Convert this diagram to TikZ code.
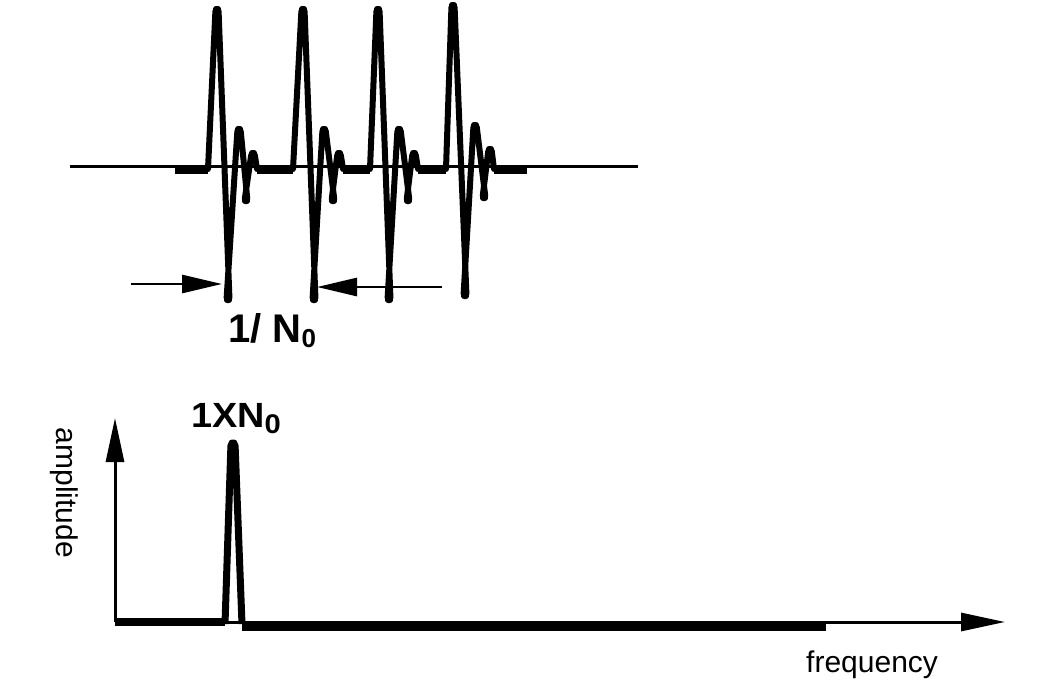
\documentclass[tikz,border=0pt]{standalone}
\usepackage{fontspec}
\setmainfont{Liberation Sans}
\usetikzlibrary{arrows.meta}
\begin{document}
\begin{tikzpicture}[x=1pt,y=-1pt,
  thinline/.style={line width=3pt},
  thickbase/.style={line width=8pt},
  pulseline/.style={line width=6pt, line join=round, line cap=round, rounded corners=2.5pt},
  spikeline/.style={line width=7pt, line join=round, rounded corners=3pt},
  dimarrow/.style={line width=2.8pt, -{Triangle[length=40pt,width=18pt]}},
  axisarrow/.style={line width=3pt, -{Triangle[length=44pt,width=18pt]}},
  boldlabel/.style={font=\fontsize{40}{44}\selectfont\bfseries, inner sep=0pt},
  axislabel/.style={font=\fontsize{30}{34}\selectfont, inner sep=0pt}]
\fill[white] (0,0) rectangle (1047,697);
\useasboundingbox (0,0) rectangle (1047,697);

% ---------- top: pulse train ----------
\draw[thinline] (70,166) -- (638,166);
\foreach \a/\b in {175/208, 257/293, 343/370, 418/446, 494/527}
  \draw[thickbase] (\a,169.5) -- (\b,169.5);

\draw[pulseline] (208,169) -- (215.5,9) -- (218.5,9) -- (229.5,300) -- (226.5,300) -- (237.5,129) -- (240.5,129)
  -- (247.5,201) -- (244.5,201) -- (251.5,153) -- (254.5,153) -- (257,169);
\draw[pulseline] (293,169) -- (301.5,9) -- (304.5,9) -- (315.5,300) -- (312.5,300) -- (322.5,129) -- (325.5,129)
  -- (334.5,201) -- (331.5,201) -- (337.5,153) -- (340.5,153) -- (343,169);
\draw[pulseline] (370,169) -- (376.5,9) -- (379.5,9) -- (390.5,300) -- (387.5,300) -- (397.5,129) -- (400.5,129)
  -- (409.5,201) -- (406.5,201) -- (412.5,153) -- (415.5,153) -- (418,169);
\draw[pulseline] (446,169) -- (451.5,5) -- (454.5,5) -- (466.5,296) -- (463.5,296) -- (473.5,125) -- (476.5,125)
  -- (485.5,198) -- (482.5,198) -- (488.5,149) -- (491.5,149) -- (494,169);

% dimension arrows
\coordinate (la) at (131,284);
\coordinate (lt) at (222,284);
\coordinate (ra) at (442,287);
\coordinate (rt) at (317,287);
\draw[dimarrow] (la) -- (lt);
\draw[dimarrow] (ra) -- (rt);

\node[boldlabel, anchor=base west] (period) at (228,342)
  {1/ N\raisebox{-5pt}{\fontsize{26}{26}\selectfont 0}};

% ---------- bottom: spectrum ----------
\coordinate (o) at (115,622);
\coordinate (ytip) at (115,418);
\coordinate (xtip) at (1005,622);
\draw[axisarrow] (o) -- (ytip);
\draw[axisarrow] (o) -- (xtip);

\draw[thickbase] (115,622) -- (225,622);
\draw[thickbase, line width=10pt] (242,626) -- (826,626);
\draw[spikeline] (225,624) -- (231,443) -- (235,443) -- (242,624);

\node[inner sep=0pt, anchor=base west] (peak) at (191,427)
  {\scalebox{1.08}[1]{\fontsize{35}{38}\selectfont\bfseries 1XN\raisebox{-6pt}{\fontsize{27}{27}\selectfont 0}}};

\node[axislabel, rotate=-90] (amp) at (64,493) {amplitude};
\node[axislabel, anchor=base west] (freq) at (806,672) {frequency};
\end{tikzpicture}
\end{document}
